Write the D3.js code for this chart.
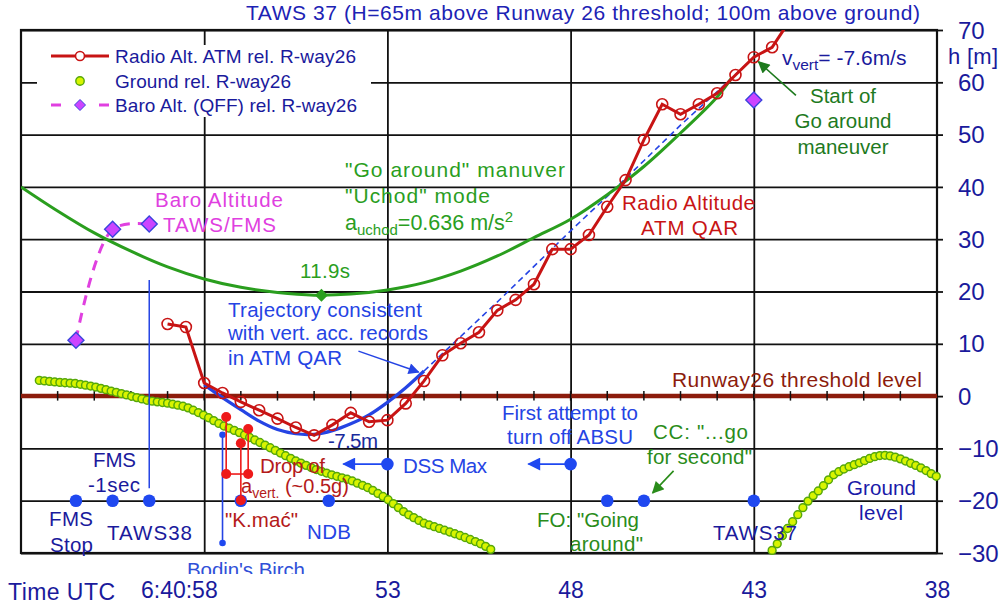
<!DOCTYPE html>
<html><head><meta charset="utf-8">
<script src="https://cdn.jsdelivr.net/npm/d3@7"></script>
<style>
body{margin:0;background:#fff}
svg{display:block;font-family:"Liberation Sans",Arial,sans-serif}
</style>
</head><body>
<svg id="c" width="1000" height="611"></svg>
<script>
// ---------------- DATA ----------------
const xTickValues = [58, 53, 48, 43, 38];
const xTickLabels = ["6:40:58", "53", "48", "43", "38"];
const yTickValues = [-30, -20, -10, 0, 10, 20, 30, 40, 50, 60, 70];

// Radio altitude ATM rel. runway 26 (time s, height m)
const radioTimes = [59, 58.5, 58, 57.5, 57, 56.5, 56, 55.5, 55, 54.5, 54, 53.5, 53, 52.5, 52, 51.5, 51, 50.5, 50,
  49.5, 49, 48.5, 48, 47.5, 47, 46.5, 46, 45.5, 45, 44.5, 44, 43.5, 43, 42.5, 42];
const radioAlt = [13.8, 13.2, 2.5, 0.6, -1.1, -2.7, -4.3, -6.0, -7.5, -5.5, -3.2, -4.9, -4.6, -1.4, 2.9, 7.8, 10.1, 12.2, 16.4,
  18.4, 21.4, 28.1, 28.1, 30.8, 36.2, 41.3, 49.0, 55.8, 53.9, 55.8, 57.9, 61.4, 64.8, 66.7, 72.0];

// Ground rel. runway 26, sampled every 0.14 s
const groundStep = 0.14;
const groundLeftStart = 62.5;
const groundLeft = [3.00, 2.90, 2.80, 2.71, 2.62, 2.55, 2.48, 2.41, 2.26, 2.09, 1.92, 1.73, 1.48, 1.22, 0.97, 0.72, 0.47, 0.22,
  -0.04, -0.29, -0.54, -0.79, -0.97, -1.10, -1.22, -1.35, -1.55, -1.74, -1.94, -2.25, -2.70, -3.15, -3.63, -4.14, -4.69, -5.23,
  -5.72, -6.14, -6.56, -6.98, -7.44, -7.92, -8.39, -8.87, -9.38, -9.88, -10.38, -10.89, -11.39, -11.90, -12.40, -12.82, -13.24,
  -13.66, -14.04, -14.38, -14.72, -15.05, -15.34, -15.62, -15.90, -16.22, -16.64, -17.06, -17.48, -18.02, -18.61, -19.20, -19.81,
  -20.56, -21.32, -22.08, -22.70, -23.24, -23.77, -24.30, -24.64, -24.97, -25.31, -25.64, -25.98, -26.32, -26.65, -27.04, -27.42,
  -27.81, -28.23, -28.73, -29.30];
const groundRightStart = 42.5;
const groundRight = [-29.5, -28.24, -26.70, -25.32, -24.02, -22.68, -21.33, -20.08, -19.04, -18.13, -17.14, -16.01, -15.05,
  -14.45, -13.94, -13.50, -13.12, -12.76, -12.34, -11.92, -11.58, -11.37, -11.32, -11.43, -11.67, -12.00, -12.42, -12.84, -13.26,
  -13.72, -14.24, -14.83, -15.33];

// Baro altitude (QFF) rel. runway 26
const baroTimes = [61.5, 60.5, 59.5, 43.0];
const baroAlt = [10.7, 31.9, 32.9, 56.6];

// "Go around" manoeuvre curve ("Uchod" mode)
const goTimes = [63, 62, 61, 60, 59, 58, 57, 56, 55, 54, 53, 52, 51, 50, 49, 48, 47, 46, 45, 44, 43.6];
const goAlt = [40.0, 35.4, 31.2, 27.7, 24.7, 22.4, 20.8, 19.8, 19.3, 19.5, 20.3, 21.7, 23.9, 26.8, 30.3, 33.8, 38.5, 43.9, 50.3, 57.2, 60.9];
const goMin = {t: 54.8, h: 19.3};

// Trajectory consistent with vertical acceleration records
const trajTimes = [58, 57.5, 57, 56.5, 56, 55.5, 55, 54.5, 54, 53.5, 53, 52.5, 52];
const trajAlt = [2.2, -0.3, -2.6, -4.8, -6.4, -7.2, -7.3, -6.6, -5.3, -3.6, -1.2, 1.6, 4.8];
const trajExtTimes = [52, 51, 50, 49, 48, 47, 46, 45, 44, 43];
const trajExtAlt = [4.8, 11.4, 18.0, 24.8, 31.6, 38.2, 45.0, 51.8, 58.2, 64.8];

// Events (blue dots)
const eventTimes = [61.5, 60.5, 59.5, 57.0, 54.6, 47.0, 46.0, 43.0];
const eventLevel = -20;
const arrowEventTimes = [53.0, 48.0];
const arrowEventEnds = [54.2, 49.15];
const arrowEventLevel = -13;

// "Drop of a_vert" markers (time, from, to)
const dropTimes = [57.4, 56.8, 57.0];
const dropTop = [-4.0, -6.3, -9.0];
const dropBottom = [-14.9, -14.9, -19.9];

const birchTime = 57.5, birchTop = -7.4, birchBottom = -28.1;
const fmsLineTime = 59.5, fmsLineTop = 22.2, fmsLineBottom = -17.6;
const secondTicks = d3.range(39, 63);

// ---------------- CHART ----------------
const L = 21, R = 937, T = 30, B = 553;
const x = d3.scaleLinear().domain([63, 38]).range([L, R]);
const y = d3.scaleLinear().domain([-30, 70]).range([B, T]);
const svg = d3.select("#c");

const navy = "#1a1a9c", blueT = "#2544e4", blueDot = "#1f48f0",
  green = "#2a9e1e", greenDark = "#1e7a1e", greenText = "#2a8c1a",
  red = "#c81414", darkRed = "#8c1c0c", magenta = "#e040e0";

const defs = svg.append("defs");
defs.append("clipPath").attr("id", "plot").append("rect").attr("x", L).attr("y", T).attr("width", R - L).attr("height", B - T);
defs.append("clipPath").attr("id", "birchclip").append("rect").attr("x", 0).attr("y", 0).attr("width", 1000).attr("height", 574);
function arrowMarker(id, color, w, h) {
  defs.append("marker").attr("id", id).attr("viewBox", "0 0 10 10").attr("refX", 9).attr("refY", 5)
    .attr("markerWidth", w).attr("markerHeight", h).attr("markerUnits", "userSpaceOnUse").attr("orient", "auto")
    .append("path").attr("d", "M0,0 L10,5 L0,10 Z").attr("fill", color);
}
arrowMarker("ablue", blueT, 15, 11);
arrowMarker("ablue2", blueDot, 14, 13);
arrowMarker("agreen", greenDark, 15, 12);
arrowMarker("agreen2", greenText, 15, 12);

// grid
svg.append("g").attr("transform", `translate(${L},0)`)
  .call(d3.axisLeft(y).tickValues(yTickValues).tickSize(-(R - L)).tickFormat(""))
  .call(g => g.select(".domain").remove())
  .selectAll("line").attr("stroke", "#111").attr("stroke-width", 1.8);
svg.append("g").attr("transform", `translate(0,${B})`)
  .call(d3.axisBottom(x).tickValues(xTickValues.slice(0, 4)).tickSize(-(B - T)).tickFormat(""))
  .call(g => g.select(".domain").remove())
  .selectAll("line").attr("stroke", "#111").attr("stroke-width", 1.8);

// right axis
const ra = svg.append("g").attr("transform", `translate(${R},0)`)
  .call(d3.axisRight(y).tickValues(yTickValues).tickSize(6).tickPadding(15).tickFormat(d3.format("d")));
ra.select(".domain").remove();
ra.selectAll("line").attr("stroke", "#111").attr("stroke-width", 1.8);
ra.selectAll("text").attr("fill", navy).attr("font-size", 24).attr("font-family", "Liberation Sans, Arial, sans-serif")
  .attr("dy", "0.34em");

// bottom labels
const ba = svg.append("g").attr("transform", `translate(0,${B})`)
  .call(d3.axisBottom(x).tickValues(xTickValues).tickSize(0).tickPadding(29).tickFormat((d, i) => xTickLabels[i]));
ba.select(".domain").remove();
ba.selectAll("text").attr("fill", navy).attr("font-size", 23).attr("font-family", "Liberation Sans, Arial, sans-serif");
ba.selectAll("text").filter((d, i) => i === 0).attr("text-anchor", "end").attr("dx", 13);

// legend background
svg.append("rect").attr("x", 37).attr("y", 45).attr("width", 334).attr("height", 72).attr("fill", "#fff");

// frame
svg.append("rect").attr("x", L).attr("y", T).attr("width", R - L).attr("height", B - T)
  .attr("fill", "none").attr("stroke", "#111").attr("stroke-width", 2.2);

// runway threshold line + second ticks
svg.append("line").attr("x1", L).attr("x2", R).attr("y1", y(0)).attr("y2", y(0))
  .attr("stroke", darkRed).attr("stroke-width", 4.5);
svg.append("g").selectAll("line").data(secondTicks).join("line")
  .attr("x1", d => x(d)).attr("x2", d => x(d)).attr("y1", y(0) - 5).attr("y2", y(0) + 4.5)
  .attr("stroke", "#111").attr("stroke-width", 1.5);

const plot = svg.append("g").attr("clip-path", "url(#plot)");
const zip = (ts, vs) => ts.map((t, i) => [t, vs[i]]);
const lineLin = d3.line().x(d => x(d[0])).y(d => y(d[1]));
const lineSmooth = d3.line().x(d => x(d[0])).y(d => y(d[1])).curve(d3.curveCatmullRom.alpha(0.5));

// dashed trajectory extension
plot.append("path").attr("d", lineLin(zip(trajExtTimes, trajExtAlt)))
  .attr("fill", "none").attr("stroke", blueT).attr("stroke-width", 1.6).attr("stroke-dasharray", "6,4");
// go around curve
plot.append("path").attr("d", lineSmooth(zip(goTimes, goAlt)))
  .attr("fill", "none").attr("stroke", green).attr("stroke-width", 3);
// trajectory
plot.append("path").attr("d", lineSmooth(zip(trajTimes, trajAlt)))
  .attr("fill", "none").attr("stroke", blueT).attr("stroke-width", 3.2);
// radio altitude
const radio = zip(radioTimes, radioAlt);
plot.append("path").attr("d", lineLin(radio)).attr("fill", "none").attr("stroke", red).attr("stroke-width", 3);
plot.append("g").selectAll("circle").data(radio).join("circle")
  .attr("cx", d => x(d[0])).attr("cy", d => y(d[1])).attr("r", 5.5)
  .attr("fill", "none").attr("stroke", red).attr("stroke-width", 1.6);

// green min diamond
const diamond = s => `M0,${-s}L${s},0L0,${s}L${-s},0Z`;
svg.append("path").attr("d", diamond(6.5)).attr("transform", `translate(${x(goMin.t)},${y(goMin.h)})`).attr("fill", green);

// ground
const ground = groundLeft.map((v, i) => [groundLeftStart - i * groundStep, v])
  .concat(groundRight.map((v, i) => [groundRightStart - i * groundStep, v]));
svg.append("g").selectAll("circle").data(ground).join("circle")
  .attr("cx", d => x(d[0])).attr("cy", d => y(d[1])).attr("r", 3.9)
  .attr("fill", "#d8f400").attr("stroke", "#56a80a").attr("stroke-width", 1.5);

// baro
const baro = zip(baroTimes, baroAlt);
svg.append("path").attr("d", lineSmooth(baro.slice(0, 3)))
  .attr("fill", "none").attr("stroke", magenta).attr("stroke-width", 3).attr("stroke-dasharray", "10,8");
svg.append("g").selectAll("path").data(baro).join("path")
  .attr("d", diamond(8)).attr("transform", d => `translate(${x(d[0])},${y(d[1])})`)
  .attr("fill", "#cc44ff").attr("stroke", "#3a44dd").attr("stroke-width", 1.4);

// FMS -1sec line
svg.append("line").attr("x1", x(fmsLineTime)).attr("x2", x(fmsLineTime)).attr("y1", y(fmsLineTop)).attr("y2", y(fmsLineBottom))
  .attr("stroke", blueT).attr("stroke-width", 1.5);

// Bodin's birch
svg.append("line").attr("x1", x(birchTime)).attr("x2", x(birchTime)).attr("y1", y(birchTop)).attr("y2", y(birchBottom))
  .attr("stroke", blueT).attr("stroke-width", 1.6);
svg.append("g").selectAll("circle").data([birchTop, birchBottom]).join("circle")
  .attr("cx", x(birchTime)).attr("cy", d => y(d)).attr("r", 3.3).attr("fill", blueDot);

// event dots
svg.append("g").selectAll("circle").data(eventTimes).join("circle")
  .attr("cx", d => x(d)).attr("cy", y(eventLevel)).attr("r", 6.3).attr("fill", blueDot);
svg.append("g").selectAll("line").data(arrowEventTimes).join("line")
  .attr("x1", d => x(d)).attr("x2", (d, i) => x(arrowEventEnds[i])).attr("y1", y(arrowEventLevel)).attr("y2", y(arrowEventLevel))
  .attr("stroke", blueDot).attr("stroke-width", 1.8).attr("marker-end", "url(#ablue2)");
svg.append("g").selectAll("circle").data(arrowEventTimes).join("circle")
  .attr("cx", d => x(d)).attr("cy", y(arrowEventLevel)).attr("r", 6.3).attr("fill", blueDot);

// drop markers
const dg = svg.append("g");
dropTimes.forEach((t, i) => {
  dg.append("line").attr("x1", x(t)).attr("x2", x(t)).attr("y1", y(dropTop[i])).attr("y2", y(dropBottom[i]))
    .attr("stroke", "#ee1a1a").attr("stroke-width", 1.6);
});
dg.append("line").attr("x1", x(dropTimes[0])).attr("x2", x(dropTimes[1])).attr("y1", y(dropBottom[0])).attr("y2", y(dropBottom[1]))
  .attr("stroke", "#ee1a1a").attr("stroke-width", 1.6);
dropTimes.forEach((t, i) => {
  [dropTop[i], dropBottom[i]].forEach(v => dg.append("circle").attr("cx", x(t)).attr("cy", y(v)).attr("r", 5).attr("fill", "#ee1a1a"));
});

// annotation arrows
function arrow(t1, h1, t2, h2, color, marker, w) {
  svg.append("line").attr("x1", x(t1)).attr("y1", y(h1)).attr("x2", x(t2)).attr("y2", y(h2))
    .attr("stroke", color).attr("stroke-width", w).attr("marker-end", `url(#${marker})`);
}
arrow(53.79, 8.6, 52.15, 4.6, blueT, "ablue", 1.5);
arrow(41.85, 57.5, 42.87, 63.9, greenDark, "agreen", 1.6);
arrow(45.19, -14.3, 45.76, -18.5, greenText, "agreen2", 1.6);

// ---------------- TEXT ----------------
function label(txt, x0, yb, o = {}) {
  const t = svg.append("text").attr("x", x0).attr("y", yb).attr("fill", o.c || navy)
    .attr("font-size", o.s || 20.5).text(txt);
  if (o.a) t.attr("text-anchor", o.a);
  if (o.len) t.attr("textLength", o.len).attr("lengthAdjust", "spacing");
  return t;
}
function subText(x0, yb, parts, color, size, small) {
  const t = svg.append("text").attr("x", x0).attr("y", yb).attr("fill", color).attr("font-size", size);
  let shift = 0;
  parts.forEach(p => {
    const sp = t.append("tspan").text(p.t);
    const target = p.sub ? 5 : p.sup ? -8 : 0;
    sp.attr("dy", target - shift);
    shift = target;
    if (p.sub || p.sup) sp.attr("font-size", small);
  });
  return t;
}

label("TAWS 37 (H=65m above Runway 26 threshold; 100m above ground)", 246, 20, {c: "#1c22b4", s: 21, len: 674});

// legend
svg.append("line").attr("x1", 51).attr("x2", 109).attr("y1", 56).attr("y2", 56).attr("stroke", red).attr("stroke-width", 3);
svg.append("circle").attr("cx", 80).attr("cy", 56).attr("r", 4.5).attr("fill", "#fff").attr("stroke", red).attr("stroke-width", 1.6);
svg.append("circle").attr("cx", 80).attr("cy", 81).attr("r", 4.2).attr("fill", "#d8f400").attr("stroke", "#56a80a").attr("stroke-width", 1.4);
[[51, 61], [99, 109]].forEach(s => svg.append("line").attr("x1", s[0]).attr("x2", s[1]).attr("y1", 105).attr("y2", 105)
  .attr("stroke", magenta).attr("stroke-width", 3));
svg.append("path").attr("d", diamond(5.5)).attr("transform", "translate(80,105)").attr("fill", "#cc44ff").attr("stroke", "#3a44dd").attr("stroke-width", 1);
label("Radio Alt. ATM rel. R-way26", 115, 63, {s: 19, len: 241});
label("Ground rel. R-way26", 115, 88, {s: 19, len: 176});
label("Baro Alt. (QFF) rel. R-way26", 115, 112, {s: 19, len: 242});

// annotations
label("Baro  Altitude", 155, 207, {c: magenta, len: 128});
label("TAWS/FMS", 163, 232, {c: magenta, len: 113});
label("\"Go around\" manuver", 345, 177, {c: green, s: 21, len: 220});
label("\"Uchod\" mode", 345, 203, {c: green, s: 21, len: 145});
subText(345, 230, [{t: "a"}, {t: "uchod", sub: true}, {t: "=0.636 m/s"}, {t: "2", sup: true}], green, 21.5, 15);
label("11.9s", 300, 278, {c: green, len: 50});
subText(782, 65, [{t: "v"}, {t: "vert", sub: true}, {t: "= -7.6m/s"}], navy, 21, 15.5);
label("Start of", 843, 103, {c: greenDark, a: "middle"});
label("Go around", 843, 128, {c: greenDark, a: "middle"});
label("maneuver", 843, 154, {c: greenDark, a: "middle"});
label("Radio Altitude", 622, 210, {c: red, len: 133});
label("ATM QAR", 641, 235, {c: red, len: 97});
label("Trajectory  consistent", 228, 317, {c: blueT, len: 194});
label("with vert. acc. records", 228, 340, {c: blueT, len: 200});
label("in ATM  QAR", 228, 365, {c: blueT, len: 114});
label("-7.5m", 328, 448, {c: "#1a2a9c", len: 50});
label("Runway26  threshold  level", 672, 387, {c: darkRed, s: 21, len: 250});
label("First attempt to", 502, 420, {c: blueT, len: 136});
label("turn off ABSU", 507, 444, {c: blueT, len: 126});
label("DSS Max", 403, 473, {c: blueT, len: 84});
label("CC: \"...go", 653, 439, {c: greenText, len: 95});
label("for second\"", 647, 464, {c: greenText, len: 105});
label("FMS", 93, 467, {len: 43});
label("-1sec", 88, 492, {len: 52});
label("FMS", 49, 526, {len: 44});
label("Stop", 50, 552, {len: 43});
label("TAWS38", 107, 540, {len: 85});
label("NDB", 307, 539, {c: blueT, len: 44});
label("TAWS37", 713, 540, {len: 84});
label("Ground", 847, 495, {c: "#1a1aa8", len: 69});
label("level", 859, 520, {c: "#1a1aa8", len: 44});
label("FO: \"Going", 537, 527, {c: greenText, len: 102});
label("around\"", 570, 551, {c: greenText, len: 73});
label("Bodin's Birch", 187, 577, {c: "#3050d8", len: 118}).attr("clip-path", "url(#birchclip)");
label("Drop of", 260, 473, {c: "#b41a1a", len: 65});
subText(241, 493, [{t: "a"}, {t: "vert.", sub: true}, {t: " (~0.5g)"}], "#b41a1a", 20, 14);
label("\"K.mać\"", 225, 527, {c: "#b41a1a", len: 73});
label("Time UTC", 8, 600, {s: 23, len: 107});
label("h [m]", 948, 64, {s: 22, len: 50});
</script>
</body></html>
